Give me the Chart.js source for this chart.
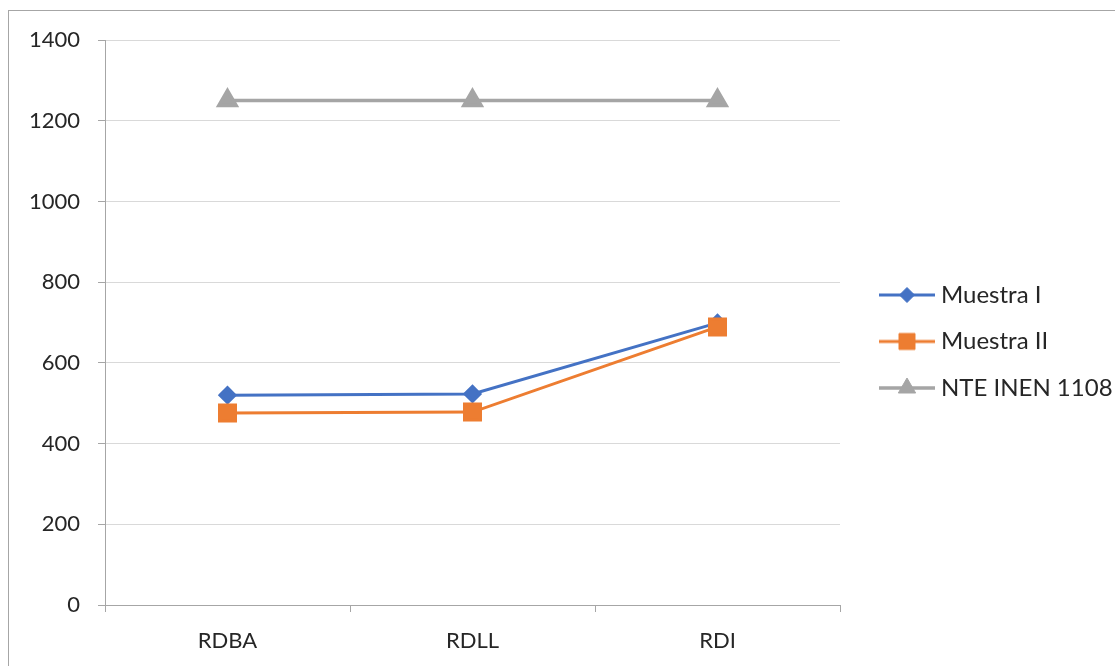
<!DOCTYPE html>
<html>
<head>
<meta charset="utf-8">
<title>Muestras vs NTE INEN 1108</title>
<script src="https://cdn.jsdelivr.net/npm/chart.js@4/dist/chart.umd.min.js"></script>
<style>
  html, body { margin: 0; padding: 0; background: #ffffff; overflow: hidden; }
  #wrap { position: relative; width: 1115px; height: 666px; overflow: hidden; }
  #frame { position: absolute; left: 8px; top: 10px; width: 1300px; height: 800px;
           border: 1px solid #a6a6a6; box-sizing: border-box; }
  #c { position: absolute; left: 0; top: 0; }
</style>
</head>
<body>
<div id="wrap">
  <div id="frame"></div>
  <canvas id="c" width="1115" height="666"></canvas>
</div>
<script>
// Categories and series values
const categories = ['RDBA', 'RDLL', 'RDI'];
const muestraI = [520, 523, 699];
const muestraII = [476, 478, 689];
const nteInen1108 = [1250, 1250, 1250];
const yTicks = [0, 200, 400, 600, 800, 1000, 1200, 1400];

const FONT = 'Lato, "Open Sans", "DejaVu Sans", sans-serif';
const TEXT = '#262626';

// Legend swatch: a short line with the series marker in the middle
function legendSwatch(ds) {
  const cv = document.createElement('canvas');
  cv.width = 56; cv.height = 24;
  const ctx = cv.getContext('2d');
  ctx.strokeStyle = ds.borderColor;
  ctx.lineWidth = ds.borderWidth;
  ctx.beginPath();
  ctx.moveTo(0, 12);
  ctx.lineTo(56, 12);
  ctx.stroke();
  ctx.fillStyle = ds.pointBackgroundColor;
  ctx.strokeStyle = ds.pointBorderColor;
  ctx.lineWidth = 1;
  Chart.helpers.drawPoint(ctx, { pointStyle: ds.pointStyle, radius: ds.pointRadius, rotation: 0, borderWidth: 1 }, 28, 12);
  return cv;
}

// Moves the legend box into place at the right of the plot and widens it
// so the longest entry is not clipped
const legendNudge = {
  id: 'legendNudge',
  afterLayout(chart, args, opts) {
    const l = chart.legend;
    if (!l) return;
    l.left += opts.dx;
    l.right = l.left + opts.width;
    l.top += opts.dy; l.bottom += opts.dy;
  }
};

const datasets = [
  {
    label: 'Muestra I',
    data: muestraI,
    borderColor: '#4472c4',
    backgroundColor: '#4472c4',
    pointBackgroundColor: '#4472c4',
    pointBorderColor: '#4472c4',
    pointStyle: 'rectRot',
    pointRadius: 7.5,
    borderWidth: 3,
    order: 1
  },
  {
    label: 'Muestra II',
    data: muestraII,
    borderColor: '#ed7d31',
    backgroundColor: '#ed7d31',
    pointBackgroundColor: '#ed7d31',
    pointBorderColor: '#ed7d31',
    pointStyle: 'rect',
    pointRadius: 11.3,
    borderWidth: 3,
    order: 0
  },
  {
    label: 'NTE INEN 1108',
    data: nteInen1108,
    borderColor: '#a5a5a5',
    backgroundColor: '#a5a5a5',
    pointBackgroundColor: '#a5a5a5',
    pointBorderColor: '#a5a5a5',
    pointStyle: 'triangle',
    pointRadius: 10,
    borderWidth: 3.5,
    order: 2
  }
];

function build() {
  new Chart(document.getElementById('c'), {
    type: 'line',
    data: { labels: categories, datasets: datasets },
    plugins: [legendNudge],
    options: {
      responsive: false,
      animation: false,
      devicePixelRatio: 1,
      layout: { padding: { left: 25, right: 45, top: 40, bottom: 0 } },
      elements: {
        line: { tension: 0, fill: false },
        point: { borderWidth: 1, hoverRadius: 8 }
      },
      scales: {
        x: {
          type: 'category',
          offset: true,
          afterFit(s) { s.height = 61; },
          grid: {
            display: true,
            drawOnChartArea: false,
            offset: true,
            tickLength: 7,
            tickColor: '#a6a6a6',
            color: '#a6a6a6'
          },
          border: { display: true, color: '#a6a6a6', width: 1 },
          ticks: { color: TEXT, font: { family: FONT, size: 22 }, padding: 16, maxRotation: 0 }
        },
        y: {
          min: 0,
          max: 1400,
          afterFit(s) { s.width = 80; },
          afterBuildTicks(s) { s.ticks = yTicks.map(v => ({ value: v })); },
          grid: {
            color: '#d9d9d9',
            lineWidth: 1,
            tickLength: 7,
            tickColor: '#a6a6a6'
          },
          border: { display: true, color: '#a6a6a6', width: 1 },
          ticks: {
            color: TEXT,
            font: { family: FONT, size: 22 },
            padding: 18,
            callback: v => String(v)
          }
        }
      },
      plugins: {
        tooltip: { enabled: false },
        legendNudge: { dx: 22.5, dy: -11.5, width: 300 },
        legend: {
          position: 'right',
          align: 'center',
          maxWidth: 230,
          labels: {
            usePointStyle: true,
            pointStyleWidth: 44,
            padding: 22.5,
            color: TEXT,
            font: { family: FONT, size: 24 },
            sort: (a, b) => a.datasetIndex - b.datasetIndex,
            generateLabels(chart) {
              return chart.data.datasets.map((ds, i) => ({
                text: ds.label,
                datasetIndex: i,
                pointStyle: legendSwatch(ds),
                fillStyle: ds.backgroundColor,
                strokeStyle: ds.borderColor,
                lineWidth: 0,
                hidden: false,
                fontColor: TEXT
              }));
            }
          }
        }
      }
    }
  });
}

if (document.fonts && document.fonts.load) {
  document.fonts.load('22px Lato').then(build, build);
} else {
  build();
}
</script>
</body>
</html>
